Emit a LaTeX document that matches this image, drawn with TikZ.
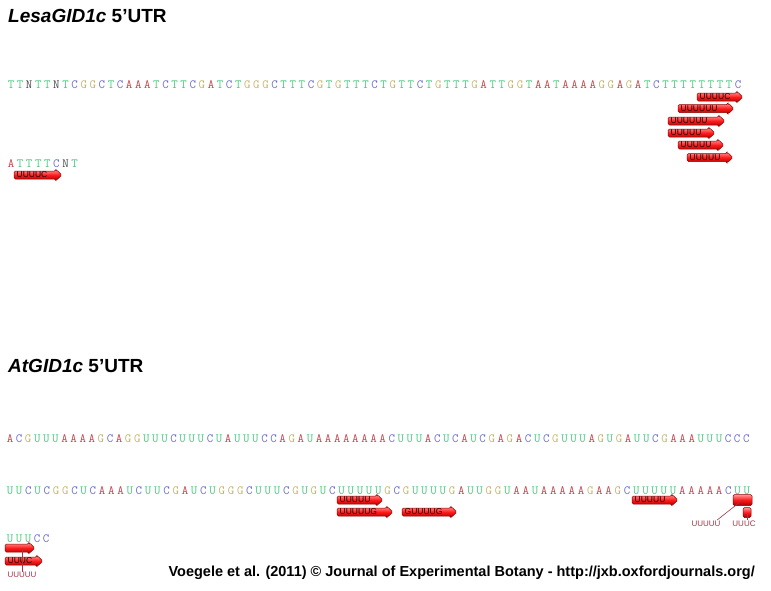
\documentclass[tikz,border=0pt]{standalone}
\usepackage{fontspec}
\setmainfont{Liberation Sans}
\usetikzlibrary{positioning}

\definecolor{ntAcol}{RGB}{200,64,72}
\definecolor{ntCcol}{RGB}{104,104,208}
\definecolor{ntGcol}{RGB}{196,180,104}
\definecolor{ntTcol}{RGB}{72,200,124}
\definecolor{ntNcol}{RGB}{70,70,70}
\definecolor{orfedge}{RGB}{140,0,0}
\definecolor{motifcol}{RGB}{165,50,70}

\tikzset{
  nt/.style={font=\ttfamily\fontsize{12.5}{12.5}\selectfont, inner sep=0pt, anchor=base},
  ntA/.style={nt, text=ntAcol},
  ntC/.style={nt, text=ntCcol},
  ntG/.style={nt, text=ntGcol},
  ntT/.style={nt, text=ntTcol},
  ntU/.style={nt, text=ntTcol},
  ntN/.style={nt, text=ntNcol},
  orfbody/.style={draw=orfedge, line width=0.5pt, rounded corners=1.5pt,
    top color=red!40!white, bottom color=red!65!black, middle color=red!90!white},
  orfpiece/.style={orfbody, inner sep=0pt},
  orflabel/.style={font=\fontsize{8.5}{8.5}\selectfont, text=black!90!red, inner sep=0pt, anchor=west},
  motiflabel/.style={font=\fontsize{8}{8}\selectfont, text=motifcol, inner sep=0.5pt},
  motifline/.style={draw=motifcol, line width=0.6pt},
  title/.style={font=\bfseries\fontsize{19}{22}\selectfont, anchor=base west, inner sep=0pt},
  credit/.style={font=\bfseries\fontsize{14.5}{17}\selectfont, anchor=base east, inner sep=0pt}
}

\makeatletter
\newcommand\seqrow[4]{\def\seq@x{#1}\def\seq@y{#2}\def\seq@d{#3}\seq@next#4\relax}
\def\seq@next#1{\ifx\relax#1\else\node[nt#1] at (\seq@x,\seq@y) {#1};\pgfmathsetmacro\seq@x{\seq@x+\seq@d}\expandafter\seq@next\fi}
\makeatother

\newcommand\orfarrow[5]{%
  \shade[orfbody] (#2,#4-4) -- (#3-6,#4-4) -- (#3-6,#4-5.5) -- (#3,#4) -- (#3-6,#4+5.5) -- (#3-6,#4+4) -- (#2,#4+4) -- cycle;
  \node[orflabel] (#1) at (#2+2.5,#4) {#5};}

\begin{document}
\begin{tikzpicture}[x=1pt,y=-1pt]
  \useasboundingbox (0,0) rectangle (771,590);

  \node[title] (titleLesa) at (8,22) {\textit{LesaGID1c} 5’UTR};

  \seqrow{11}{88.5}{9.09}{TTNTTNTCGGCTCAAATCTTCGATCTGGGCTTTCGTGTTTCTGTTCTGTTTGATTGGTAATAAAAGGAGATCTTTTTTTTC}
  \seqrow{11}{167}{9.09}{ATTTTCNT}

  \orfarrow{lesaA}{697}{743}{97}{UUUUC}
  \orfarrow{lesaB}{678}{734}{108.5}{UUUUUU}
  \orfarrow{lesaC}{668}{725}{121}{UUUUUU}
  \orfarrow{lesaD}{668}{715}{133}{UUUUU}
  \orfarrow{lesaE}{678}{724}{145}{UUUUU}
  \orfarrow{lesaF}{687}{733}{157.5}{UUUUU}
  \orfarrow{lesaG}{14}{62}{175}{UUUUC}

  \node[title] (titleAt) at (8,372) {\textit{AtGID1c} 5’UTR};

  \seqrow{10}{442}{9.09}{ACGUUUAAAAGCAGGUUUCUUUCUAUUUCCAGAUAAAAAAAACUUUACUCAUCGAGACUCGUUUAGUGAUUCGAAAUUUCCC}
  \seqrow{10}{494}{9.21}{UUCUCGGCUCAAAUCUUCGAUCUGGGCUUUCGUGUCUUUUUGCGUUUUGAUUGGUAAUAAAAAGAAGCUUUUUAAAAACUU}
  \seqrow{10}{542}{9}{UUUCC}

  \orfarrow{atA}{337}{383}{500}{UUUUU}
  \orfarrow{atB}{337}{393}{512}{UUUUUG}
  \orfarrow{atC}{402}{457}{512}{GUUUUG}
  \orfarrow{atD}{632}{678}{500}{UUUUU}
  \node[orfpiece, minimum width=19pt, minimum height=11pt] (pieceU5) at (742.5,500) {};
  \node[orfpiece, minimum width=8pt, minimum height=10pt] (pieceC) at (747,512.5) {};
  \orfarrow{wrapU5}{5}{35}{548}{}
  \orfarrow{wrapC}{5}{43}{561}{UUUC}

  \node[motiflabel] (motifU5) at (706,523.5) {UUUUU};
  \node[motiflabel] (motifC) at (744,523.5) {UUUC};
  \node[motiflabel] (motifU5b) at (22,575) {UUUUU};
  \draw[motifline] (pieceU5.center) -- ([xshift=-4pt]motifU5.north east);
  \draw[motifline] (pieceC.center) -- (pieceC.center |- motifC.north);
  \draw[motifline] (motifU5b.north) -- (motifU5b.north |- wrapU5);

  \node[credit] (credit) at (755,576) {Voegele et al. (2011) © Journal of Experimental Botany - http://jxb.oxfordjournals.org/};

\end{tikzpicture}
\end{document}
